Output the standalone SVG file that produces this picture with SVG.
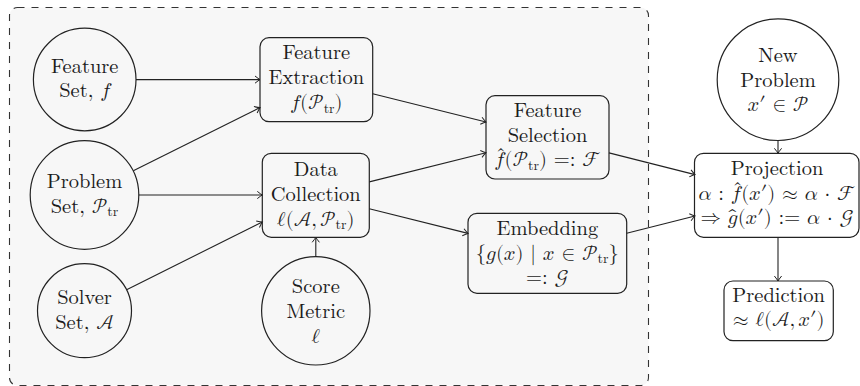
<svg xmlns="http://www.w3.org/2000/svg" width="860" height="386" viewBox="0 0 860 386">
  <defs>
    <style>
      .frame { fill: #f7f7f7; stroke: #333; stroke-width: 1.1; stroke-dasharray: 7 7; }
      .node circle, .node rect { fill: none; stroke: #222; stroke-width: 1.2; }
      .edges line { stroke: #222; stroke-width: 1.1; marker-end: url(#tip); }
      text { font-family: "Latin Modern Roman", "CMU Serif", "Liberation Serif", serif; font-size: 20.5px; fill: #1c1c1c; text-anchor: middle; }
      .m { font-family: "Latin Modern Math", "Latin Modern Roman", "CMU Serif", "Liberation Serif", serif; }
      .s { font-family: "Latin Modern Roman", "CMU Serif", "Liberation Serif", serif; font-size: 14px; }
    </style>
    <marker id="tip" viewBox="-6 -5 8 10" refX="0" refY="0" markerWidth="8" markerHeight="10" orient="auto" markerUnits="userSpaceOnUse">
      <path d="M-5,-3.6 Q-1.5,-0.8 0,0 Q-1.5,0.8 -5,3.6" fill="none" stroke="#222" stroke-width="1"/>
    </marker>
  </defs>

  <!-- training stage enclosure -->
  <rect class="frame" x="9.5" y="7.5" width="639" height="378" rx="8"/>

  <!-- connectors -->
  <g id="edges" class="edges">
    <line x1="136" y1="79.6" x2="260" y2="79.6"/>
    <line x1="133.3" y1="170.7" x2="260" y2="107.6"/>
    <line x1="138.8" y1="195" x2="262.3" y2="195"/>
    <line x1="126.6" y1="289.7" x2="262.3" y2="222"/>
    <line x1="315.8" y1="256.6" x2="315.8" y2="237.3"/>
    <line x1="372.7" y1="93.8" x2="486" y2="122"/>
    <line x1="369.3" y1="181.9" x2="486" y2="152.7"/>
    <line x1="369.3" y1="208.7" x2="468" y2="233.4"/>
    <line x1="609" y1="152.9" x2="695" y2="174.6"/>
    <line x1="626.7" y1="233.3" x2="695" y2="216"/>
    <line x1="778" y1="140.5" x2="778" y2="153.3"/>
    <line x1="778" y1="237.3" x2="778" y2="281"/>
  </g>

  <g id="feature-set" class="node">
    <circle cx="84.7" cy="79.5" r="51.3"/>
    <text x="84.7" y="72.7">Feature</text>
    <text x="84.7" y="97.3">Set, <tspan class="m">𝑓</tspan></text>
  </g>

  <g id="problem-set" class="node">
    <circle cx="84.5" cy="195" r="54.3"/>
    <text x="84.5" y="188.2">Problem</text>
    <text x="84.5" y="212.8">Set, <tspan class="m">𝒫</tspan><tspan class="s" dy="3.5">tr</tspan></text>
  </g>

  <g id="solver-set" class="node">
    <circle cx="84.5" cy="310.7" r="47"/>
    <text x="84.5" y="304">Solver</text>
    <text x="84.5" y="329">Set, <tspan class="m">𝒜</tspan></text>
  </g>

  <g id="feature-extraction" class="node">
    <rect x="260" y="37.7" width="112.7" height="84" rx="9"/>
    <text x="316.3" y="59.3">Feature</text>
    <text x="316.3" y="84.3">Extraction</text>
    <text x="316.3" y="109.3" class="m">𝑓(𝒫<tspan class="s" dy="3.5">tr</tspan><tspan dy="-3.5">)</tspan></text>
  </g>

  <g id="data-collection" class="node">
    <rect x="262.3" y="153.3" width="107" height="84" rx="9"/>
    <text x="315.8" y="175.7">Data</text>
    <text x="315.8" y="200.7">Collection</text>
    <text x="315.8" y="225.7" class="m">ℓ(𝒜,<tspan dx="3">𝒫</tspan><tspan class="s" dy="3.5">tr</tspan><tspan dy="-3.5">)</tspan></text>
  </g>

  <g id="score-metric" class="node">
    <circle cx="315.8" cy="310.8" r="54.2"/>
    <text x="315.8" y="293.3">Score</text>
    <text x="315.8" y="317.7">Metric</text>
    <text x="315.8" y="342.5" class="m">ℓ</text>
  </g>

  <g id="feature-selection" class="node">
    <rect x="486" y="95.7" width="123" height="83.3" rx="9"/>
    <text x="547.5" y="117.3">Feature</text>
    <text x="547.5" y="141.7">Selection</text>
    <!-- hat accent placed over the f by hand -->
    <text x="547.5" y="166.3" class="m">𝑓<tspan dx="-8.5" dy="-4">ˆ</tspan><tspan dx="-1.5" dy="4">(𝒫</tspan><tspan class="s" dy="3.5">tr</tspan><tspan dy="-3.5">) =: ℱ</tspan></text>
  </g>

  <g id="embedding" class="node">
    <rect x="468" y="213.3" width="158.7" height="80" rx="9"/>
    <text x="547.3" y="235">Embedding</text>
    <text x="547.3" y="259.5" class="m">{𝑔(𝑥) | 𝑥 ∈ 𝒫<tspan class="s" dy="3.5">tr</tspan><tspan dy="-3.5">}</tspan></text>
    <text x="547.3" y="283.5" class="m">=: 𝒢</text>
  </g>

  <g id="new-problem" class="node">
    <circle cx="778" cy="79.7" r="60.8"/>
    <text x="778" y="61.7">New</text>
    <text x="778" y="86.7">Problem</text>
    <text x="778" y="110.5" class="m">𝑥′ ∈ 𝒫</text>
  </g>

  <g id="projection" class="node">
    <rect x="694.5" y="153.3" width="164.5" height="84" rx="9"/>
    <text x="777" y="175">Projection</text>
    <text x="777" y="199.5" class="m">𝛼 : 𝑓<tspan dx="-8.5" dy="-4">ˆ</tspan><tspan dx="-1.5" dy="4">(𝑥′) ≈ 𝛼 ⋅ ℱ</tspan></text>
    <text x="777" y="224" class="m">⇒ 𝑔̂(𝑥′) := 𝛼 ⋅ 𝒢</text>
  </g>

  <g id="prediction" class="node">
    <rect x="724" y="281" width="109.3" height="59.7" rx="9"/>
    <text x="778.6" y="301.6">Prediction</text>
    <text x="778.6" y="326.3" class="m">≈ ℓ(𝒜,<tspan dx="3">𝑥′)</tspan></text>
  </g>
</svg>
